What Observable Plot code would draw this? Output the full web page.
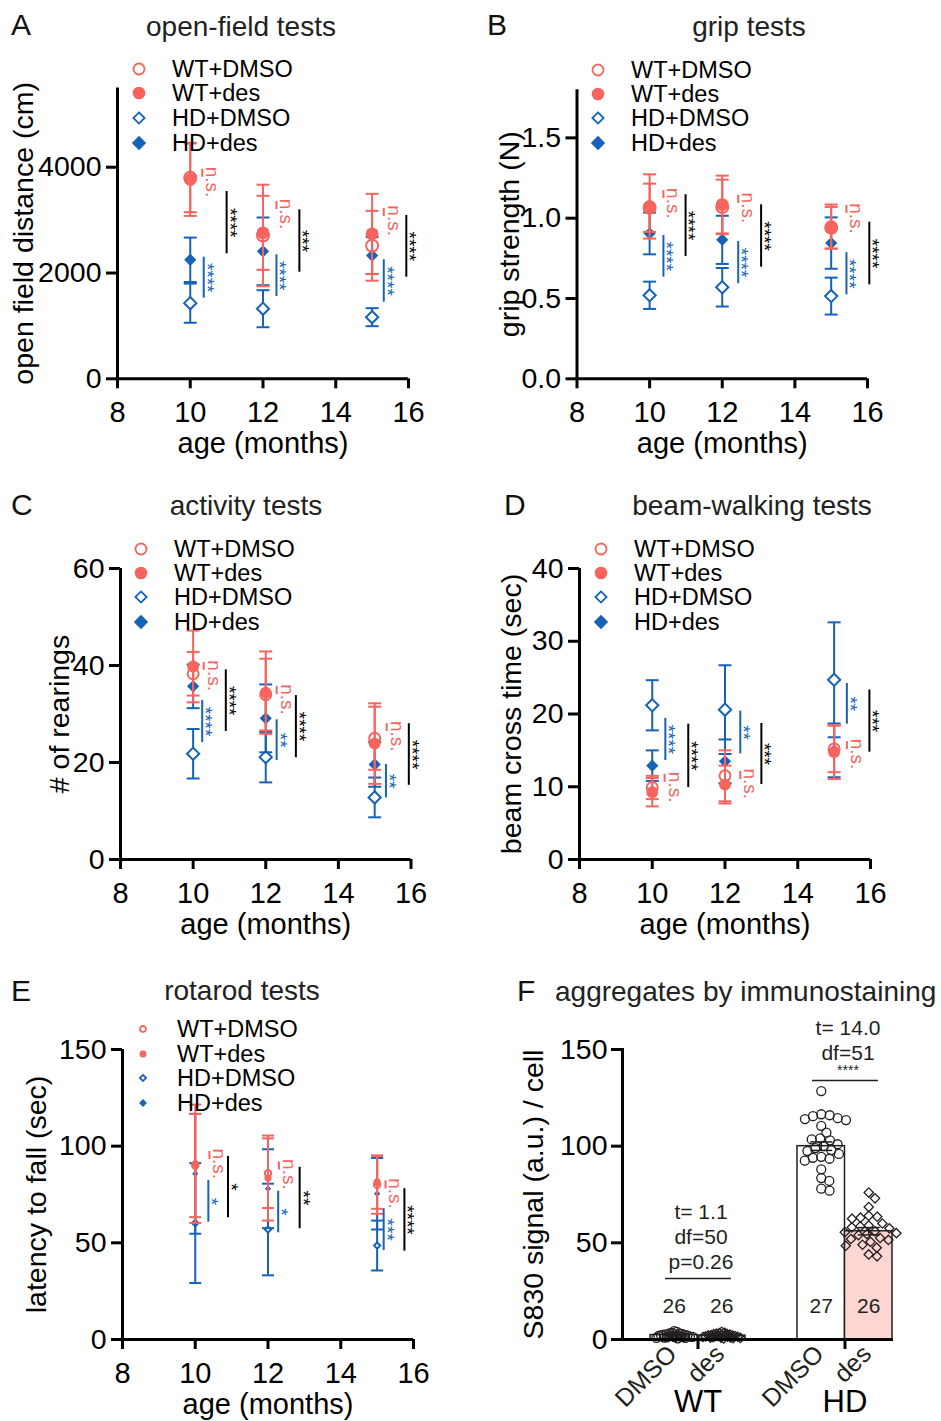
<!DOCTYPE html>
<html>
<head>
<meta charset="utf-8">
<script src="https://cdn.jsdelivr.net/npm/d3@7"></script>
<script src="https://cdn.jsdelivr.net/npm/@observablehq/plot@0.6"></script>
<style>
  body { margin: 0; background: #fff; }
  #fig { position: relative; width: 941px; height: 1421px; overflow: hidden; background: #fff;
         font-family: "Liberation Sans", Arial, Helvetica, sans-serif; }
</style>
</head>
<body>
<div id="fig"></div>
<script>
// ---------------- DATA ----------------
const ages = [10, 12, 15];
const groups = ["WT+DMSO", "WT+des", "HD+DMSO", "HD+des"];
const ageTicks = [8, 10, 12, 14, 16];

// A: open-field (mean, SD) rows follow `groups`
const openFieldMean = [[3800, 2710, 2515], [3770, 2760, 2740], [1430, 1325, 1165], [2250, 2410, 2330]];
const openFieldSd   = [[650, 960, 660], [690, 700, 757], [370, 350, 170], [420, 640, 350]];
const openFieldTicks = [0, 2000, 4000];
// brackets: [position, y1, y2, label centre (null = middle), label, comparison]
const openFieldBrackets = [
  [10.33, 3960, 3810, 3720, "n.s.", "wt"], [12.37, 3350, 3200, 3115, "n.s.", "wt"], [15.32, 3220, 3070, 2990, "n.s.", "wt"],
  [10.37, 2299, 1524, null, "****", "hd"], [12.37, 2344, 1556, null, "****", "hd"], [15.32, 2250, 1448, null, "****", "hd"],
  [11.0, 3541, 2363, null, "****", "all"], [13.0, 3195, 2015, null, "***", "all"], [15.94, 3087, 1921, null, "****", "all"]
];

// B: grip strength
const gripMean = [[1.065, 1.07, 0.94], [1.073, 1.085, 0.948], [0.52, 0.57, 0.515], [0.905, 0.865, 0.845]];
const gripSd   = [[0.15, 0.17, 0.13], [0.20, 0.18, 0.137], [0.085, 0.12, 0.115], [0.13, 0.15, 0.16]];
const gripTicks = [0, 0.5, 1.0, 1.5];
const gripBrackets = [
  [10.38, 1.172, 1.122, 1.092, "n.s.", "wt"], [12.44, 1.141, 1.092, 1.064, "n.s.", "wt"], [15.42, 1.079, 1.029, 0.998, "n.s.", "wt"],
  [10.38, 0.892, 0.633, null, "****", "hd"], [12.44, 0.855, 0.592, null, "****", "hd"], [15.42, 0.785, 0.523, null, "****", "hd"],
  [10.99, 1.146, 0.762, null, "****", "all"], [13.07, 1.083, 0.695, null, "****", "all"], [16.05, 0.975, 0.585, null, "****", "all"]
];

// C: activity (rearings)
const rearMean = [[38.3, 34.0, 25.0], [39.8, 34.4, 23.9], [21.8, 21.1, 12.8], [35.7, 29.1, 19.6]];
const rearSd   = [[4.5, 7.4, 6.5], [7.4, 8.5, 8.3], [5.1, 5.2, 4.1], [4.5, 7.0, 4.6]];
const rearTicks = [0, 20, 40, 60];
const rearBrackets = [
  [10.29, 40.6, 39.0, 37.9, "n.s.", "wt"], [12.3, 35.7, 34.0, 33.0, "n.s.", "wt"], [15.33, 28.0, 26.4, 25.4, "n.s.", "wt"],
  [10.25, 32.8, 24.1, null, "****", "hd"], [12.3, 28.8, 20.4, null, "**", "hd"], [15.31, 19.6, 12.7, null, "**", "hd"],
  [10.9, 39.1, 26.4, null, "****", "all"], [12.83, 33.8, 21.0, null, "****", "all"], [15.94, 28.0, 15.3, null, "****", "all"]
];

// D: beam walking
const beamMean = [[9.9, 11.5, 15.2], [9.25, 10.3, 14.75], [21.2, 20.6, 24.7], [12.9, 13.5, 15.0]];
const beamSd   = [[1.6, 3.5, 3.2], [1.95, 2.6, 3.7], [3.45, 6.1, 7.9], [2.1, 3.0, 3.7]];
const beamTicks = [0, 10, 20, 30, 40];
const beamBrackets = [
  [10.34, 11.7, 10.6, 9.94, "n.s.", "wt"], [12.42, 12.1, 11.0, 10.4, "n.s.", "wt"], [15.35, 16.2, 15.1, 14.5, "n.s.", "wt"],
  [10.36, 19.4, 13.6, null, "****", "hd"], [12.42, 20.4, 14.5, null, "**", "hd"], [15.35, 24.2, 18.6, null, "**", "hd"],
  [10.99, 18.6, 9.9, null, "****", "all"], [13.0, 18.7, 10.3, null, "***", "all"], [15.97, 23.3, 14.75, null, "***", "all"]
];

// E: rotarod
const rotaMean = [[90.0, 86.0, 80.0], [90.9, 83.5, 81.4], [60.2, 56.9, 48.6], [85.7, 78.0, 75.4]];
const rotaSd   = [[26.7, 18.0, 15.0], [30.6, 22.0, 13.8], [31.0, 23.7, 12.9], [31.0, 20.4, 18.5]];
const rotaTicks = [0, 50, 100, 150];
const rotaBrackets = [
  [10.39, 97.3, 93.1, 90.9, "n.s.", "wt"], [12.3, 91.8, 87.7, 85.4, "n.s.", "wt"], [15.23, 82.0, 77.9, 75.5, "n.s.", "wt"],
  [10.36, 82.2, 60.7, null, "*", "hd"], [12.28, 76.7, 55.2, null, "*", "hd"], [15.18, 67.6, 46.0, null, "***", "hd"],
  [10.9, 94.7, 63.0, null, "*", "all"], [12.87, 89.1, 57.3, null, "**", "all"], [15.75, 78.0, 45.7, null, "****", "all"]
];

// F: aggregates
const fGenotypes = ["WT", "HD"];
const fBarGenotype = ["WT", "WT", "HD", "HD"];
const fBarTreatment = ["DMSO", "des", "DMSO", "des"];
const fBarMean = [2.3, 2.0, 100.0, 56.0];
const fBarSem = [0.2, 0.2, 2.2, 1.9];
const fBarN = ["26", "26", "27", "26"];
const fWtDmso = [0.6, 2.4, 1.1, 3.2, 1.8, 0.9, 2.7, 1.5, 3.9, 2.0, 1.3, 2.9, 0.8, 2.2, 1.7, 3.4, 1.0, 2.5, 1.9, 3.0, 1.4, 2.1, 4.3, 1.2, 2.6, 1.6];
const fWtDes  = [0.5, 1.9, 2.8, 1.1, 2.3, 0.8, 3.5, 1.6, 2.0, 1.3, 2.6, 0.7, 1.8, 3.1, 1.0, 2.2, 1.5, 4.0, 1.2, 2.4, 0.9, 1.7, 2.9, 1.4, 2.1, 3.3];
const fHdDmso = [128.5, 116.5, 116, 115.5, 114.5, 114, 113.5, 110.5, 107, 104, 103.5, 103, 101, 100, 99, 98, 97.5, 96, 94.5, 94, 93.5, 92.5, 88, 83.5, 82, 78, 77];
const fHdDes  = [76, 73, 68.5, 64, 63.5, 63, 62.5, 60, 59, 58.5, 58, 57.5, 56, 55.5, 55, 54.5, 54, 52.5, 52, 51.5, 50.5, 49, 48.5, 47.5, 44, 43];
const fTicks = [0, 50, 100, 150];
const fStatGenotype = ["WT", "WT", "WT", "HD", "HD", "HD"];
const fStatY = [65.7, 52.8, 39.8, 160.9, 148, 139.2];
const fStatText = ["t= 1.1", "df=50", "p=0.26", "t= 14.0", "df=51", "****"];
const fStatSize = [21, 21, 21, 21, 21, 14];
const fSigLineGenotype = ["WT", "HD"];
const fSigLineY = [31.6, 134];

// ---------------- STYLE ----------------
const RED = "#f7635d", BLUE = "#1562b6", INK = "#231f20", PINK = "#fdd5d3";
const FONT = '"Liberation Sans", Arial, Helvetica, sans-serif';
const groupStyle = {
  "WT+DMSO": {color: RED, symbol: "circle", filled: false},
  "WT+des":  {color: RED, symbol: "circle", filled: true},
  "HD+DMSO": {color: BLUE, symbol: "diamond2", filled: false},
  "HD+des":  {color: BLUE, symbol: "diamond2", filled: true}
};
const drawOrder = ["HD+DMSO", "HD+des", "WT+DMSO", "WT+des"];
const kindColor = {wt: RED, hd: BLUE, all: "black"};
const capSymbol = {draw(ctx, size) { const w = Math.sqrt(size / Math.PI); ctx.moveTo(-w, 0); ctx.lineTo(w, 0); }};

const fig = document.getElementById("fig");

function timeRows(means, sds) {
  const rows = [];
  groups.forEach((g, gi) => ages.forEach((a, ai) => rows.push({group: g, age: a, mean: means[gi][ai], sd: sds[gi][ai]})));
  return rows;
}
function bracketRows(list) {
  return list.map(([bx, y1, y2, ty, label, kind]) => ({bx, y1, y2, ty: ty == null ? (y1 + y2) / 2 : ty, label, kind}));
}
function place(svg, box) {
  svg.style.position = "absolute";
  svg.style.left = box.left + "px";
  svg.style.top = box.top + "px";
  svg.style.overflow = "visible";
  fig.appendChild(svg);
}

function drawTimePanel(p) {
  const {box, frame} = p;
  const rows = timeRows(p.means, p.sds);
  const br = bracketRows(p.brackets);
  const marks = [];
  for (const g of drawOrder) {
    const st = groupStyle[g];
    const data = rows.filter(d => d.group === g);
    marks.push(
      Plot.ruleX(data, {x: "age", y1: d => d.mean - d.sd, y2: d => d.mean + d.sd, stroke: st.color, strokeWidth: 2}),
      Plot.dot(data, {x: "age", y: d => d.mean + d.sd, symbol: capSymbol, r: p.capR, stroke: st.color, strokeWidth: 2}),
      Plot.dot(data, {x: "age", y: d => d.mean - d.sd, symbol: capSymbol, r: p.capR, stroke: st.color, strokeWidth: 2}),
      Plot.dot(data, {
        x: "age", y: "mean", symbol: st.symbol,
        r: st.symbol === "circle" ? (st.filled ? p.r + 0.4 : p.r) : p.rD,
        fill: st.filled ? st.color : (st.symbol === "circle" ? "none" : "white"),
        stroke: st.filled ? "none" : st.color, strokeWidth: st.filled ? 0 : 2
      })
    );
  }
  for (const kind of ["wt", "hd", "all"]) {
    const d = br.filter(b => b.kind === kind);
    marks.push(Plot.ruleX(d, {x: "bx", y1: "y1", y2: "y2", stroke: kindColor[kind], strokeWidth: 2}));
    marks.push(Plot.text(d, {x: "bx", y: "ty", text: "label", rotate: 90, fill: kindColor[kind],
      fontSize: kind === "wt" ? 19 : 19, dx: kind === "wt" ? 10 : 3}));
  }
  marks.push(
    Plot.ruleY([p.yDomain[0]], {strokeWidth: 3}),
    Plot.ruleX([ageTicks[0]], {strokeWidth: 3}),
    Plot.axisX({ticks: ageTicks, tickSize: 10, tickPadding: 13, fontSize: 29, strokeWidth: 3,
      label: "age (months)", labelAnchor: "center", labelOffset: 74, labelArrow: "none"}),
    Plot.axisY({ticks: p.yTicks, tickFormat: p.yFormat, tickSize: 11, tickPadding: 5, fontSize: 28.5, strokeWidth: 3,
      label: p.ylabel, labelAnchor: "center", labelOffset: p.yLabelOffset, labelArrow: "none"})
  );
  const svg = Plot.plot({
    width: box.width, height: box.height,
    marginLeft: frame.l - box.left, marginRight: box.left + box.width - frame.r,
    marginTop: frame.t - box.top, marginBottom: box.top + box.height - frame.b,
    x: {domain: [ageTicks[0], ageTicks[ageTicks.length - 1]]},
    y: {domain: p.yDomain},
    style: {fontFamily: FONT, color: "black", background: "transparent", overflow: "visible"},
    marks
  });
  place(svg, box);
}

const timePanels = [
  {box: {left: 0, top: 40, width: 470, height: 430}, frame: {l: 117, r: 408, t: 87.4, b: 378.3},
   yDomain: [0, 5500], yTicks: openFieldTicks, yFormat: d3.format("d"), ylabel: "open field distance (cm)", yLabelOffset: 105,
   means: openFieldMean, sds: openFieldSd, brackets: openFieldBrackets, r: 6, rD: 5.5, capR: 6.5},
  {box: {left: 470, top: 40, width: 471, height: 430}, frame: {l: 576.5, r: 867, t: 89.2, b: 378.3},
   yDomain: [0, 1.8], yTicks: gripTicks, yFormat: d3.format(".1f"), ylabel: "grip strength (N)", yLabelOffset: 78,
   means: gripMean, sds: gripSd, brackets: gripBrackets, r: 6, rD: 5.5, capR: 6.5},
  {box: {left: 0, top: 520, width: 470, height: 420}, frame: {l: 120, r: 410.5, t: 568, b: 859},
   yDomain: [0, 60], yTicks: rearTicks, yFormat: d3.format("d"), ylabel: "# of rearings", yLabelOffset: 72,
   means: rearMean, sds: rearSd, brackets: rearBrackets, r: 5.5, rD: 5.5, capR: 6.5},
  {box: {left: 470, top: 520, width: 471, height: 420}, frame: {l: 579, r: 870, t: 568, b: 859},
   yDomain: [0, 40], yTicks: beamTicks, yFormat: d3.format("d"), ylabel: "beam cross time (sec)", yLabelOffset: 79,
   means: beamMean, sds: beamSd, brackets: beamBrackets, r: 5.5, rD: 5.5, capR: 6.5},
  {box: {left: 0, top: 1005, width: 470, height: 416}, frame: {l: 122, r: 413, t: 1049, b: 1339},
   yDomain: [0, 150], yTicks: rotaTicks, yFormat: d3.format("d"), ylabel: "latency to fall (sec)", yLabelOffset: 97,
   means: rotaMean, sds: rotaSd, brackets: rotaBrackets, r: 3.2, rD: 2.8, capR: 6}
];
timePanels.forEach(drawTimePanel);

// ---------------- PANEL F ----------------
(function drawF() {
  const box = {left: 470, top: 1005, width: 471, height: 416};
  const frame = {l: 622, r: 893, t: 1049, b: 1339};
  const HALF = 47.5;
  const bars = fBarGenotype.map((g, i) => ({genotype: g, treatment: fBarTreatment[i], mean: fBarMean[i], sem: fBarSem[i], n: fBarN[i]}));
  const dmsoBars = bars.filter(d => d.treatment === "DMSO");
  const desBars = bars.filter(d => d.treatment === "des");
  const dmsoDots = [...fWtDmso.map(v => ({genotype: "WT", value: v})), ...fHdDmso.map(v => ({genotype: "HD", value: v}))];
  const desDots = [...fWtDes.map(v => ({genotype: "WT", value: v})), ...fHdDes.map(v => ({genotype: "HD", value: v}))];
  const stats = fStatGenotype.map((g, i) => ({genotype: g, y: fStatY[i], text: fStatText[i], size: fStatSize[i]}));
  const sigLines = fSigLineGenotype.map((g, i) => ({genotype: g, y: fSigLineY[i]}));
  const spacing = {WT: 2.8, HD: 8.5};

  // beeswarm layout computed with Plot's own scales
  function swarm(data, facets, channels, scales) {
    const X = channels.x.value, V = channels.y.value, n = X.length;
    const PX = new Float64Array(n), PY = new Float64Array(n), off = new Float64Array(n);
    for (let i = 0; i < n; i++) PY[i] = scales.y(V[i]);
    for (const index of facets) {
      for (const [cat, idx] of d3.group(Array.from(index), i => X[i])) {
        const minD = spacing[cat];
        const order = idx.slice().sort((a, b) => PY[a] - PY[b]);
        const placed = [];
        for (const i of order) {
          const cands = [0];
          for (const j of placed) {
            const dy = PY[i] - PY[j];
            if (Math.abs(dy) < minD) {
              const w = Math.sqrt(minD * minD - dy * dy);
              cands.push(off[j] + w + 0.01, off[j] - w - 0.01);
            }
          }
          cands.sort((a, b) => Math.abs(a) - Math.abs(b));
          let best = 0;
          for (const c of cands) {
            if (placed.every(j => (c - off[j]) ** 2 + (PY[i] - PY[j]) ** 2 >= minD * minD - 0.01)) { best = c; break; }
          }
          off[i] = best;
          placed.push(i);
        }
        for (const i of idx) PX[i] = scales.x(cat) + off[i];
      }
    }
    return {data, facets, channels: {x: {value: PX}, y: {value: PY}}};
  }

  const marks = [
    Plot.barY(dmsoBars, {x: "genotype", y: "mean", insetRight: HALF, fill: "white", stroke: INK, strokeWidth: 1.5}),
    Plot.barY(desBars, {x: "genotype", y: "mean", insetLeft: HALF, fill: PINK, stroke: INK, strokeWidth: 1.5}),
    Plot.dot(dmsoDots, Plot.initializer({x: "genotype", y: "value", symbol: "circle", r: 4.5, fill: "none", stroke: INK, strokeWidth: 1.3, dx: -HALF / 2}, swarm)),
    Plot.dot(desDots, Plot.initializer({x: "genotype", y: "value", symbol: "diamond2", r: 4.2, fill: "none", stroke: INK, strokeWidth: 1.3, dx: HALF / 2}, swarm)),
    Plot.ruleX(dmsoBars, {x: "genotype", y1: d => d.mean - d.sem, y2: d => d.mean + d.sem, dx: -HALF / 2, stroke: INK, strokeWidth: 1.5}),
    Plot.ruleX(desBars, {x: "genotype", y1: d => d.mean - d.sem, y2: d => d.mean + d.sem, dx: HALF / 2, stroke: INK, strokeWidth: 1.5}),
    Plot.dot(dmsoBars, {x: "genotype", y: d => d.mean + d.sem, dx: -HALF / 2, symbol: capSymbol, r: 11, stroke: INK, strokeWidth: 1.5}),
    Plot.dot(dmsoBars, {x: "genotype", y: d => d.mean - d.sem, dx: -HALF / 2, symbol: capSymbol, r: 11, stroke: INK, strokeWidth: 1.5}),
    Plot.dot(desBars, {x: "genotype", y: d => d.mean + d.sem, dx: HALF / 2, symbol: capSymbol, r: 11, stroke: INK, strokeWidth: 1.5}),
    Plot.dot(desBars, {x: "genotype", y: d => d.mean - d.sem, dx: HALF / 2, symbol: capSymbol, r: 11, stroke: INK, strokeWidth: 1.5}),
    Plot.text(dmsoBars, {x: "genotype", text: "n", frameAnchor: "bottom", dy: -27, dx: -HALF / 2, fontSize: 21, fill: INK}),
    Plot.text(desBars, {x: "genotype", text: "n", frameAnchor: "bottom", dy: -27, dx: HALF / 2, fontSize: 21, fill: INK}),
    Plot.text(dmsoBars, {x: "genotype", text: "treatment", frameAnchor: "bottom", rotate: -45, textAnchor: "end", dx: -HALF / 2 + 4, dy: 16, fontSize: 25, fill: INK}),
    Plot.text(desBars, {x: "genotype", text: "treatment", frameAnchor: "bottom", rotate: -45, textAnchor: "end", dx: HALF / 2 + 4, dy: 16, fontSize: 25, fill: INK}),
    Plot.text(stats.filter(d => d.size > 15), {x: "genotype", y: "y", text: "text", fontSize: 21, fill: INK, dx: 3}),
    Plot.text(stats.filter(d => d.size <= 15), {x: "genotype", y: "y", text: "text", fontSize: 14, fill: INK, dx: 3}),
    Plot.tickY(sigLines, {x: "genotype", y: "y", insetLeft: 15, insetRight: 14, stroke: INK, strokeWidth: 1.5}),
    Plot.ruleY([0], {strokeWidth: 3}),
    Plot.frame({anchor: "left", strokeWidth: 3}),
    Plot.axisY({ticks: fTicks, tickFormat: d3.format("d"), tickSize: 11, tickPadding: 4, fontSize: 28.5, strokeWidth: 3,
      label: "S830 signal (a.u.) / cell", labelAnchor: "center", labelOffset: 100, labelArrow: "none"}),
    Plot.axisX({tickSize: 10, tickPadding: 40, fontSize: 31, strokeWidth: 3, label: null})
  ];
  const svg = Plot.plot({
    width: box.width, height: box.height,
    marginLeft: frame.l - box.left, marginRight: box.left + box.width - frame.r,
    marginTop: frame.t - box.top, marginBottom: box.top + box.height - frame.b,
    x: {type: "band", domain: fGenotypes, range: [650 - box.left, 892.5 - box.left], paddingInner: 0.356, paddingOuter: 0},
    y: {domain: [0, 150]},
    style: {fontFamily: FONT, color: "black", background: "transparent", overflow: "visible"},
    marks
  });
  place(svg, box);
})();

// ---------------- LETTERS, TITLES, LEGENDS ----------------
const overlay = d3.select(fig).append("svg")
  .attr("width", 941).attr("height", 1421)
  .style("position", "absolute").style("left", "0px").style("top", "0px")
  .style("pointer-events", "none").style("font-family", FONT);

const panelLetters = ["A", "B", "C", "D", "E", "F"];
const letterPos = [[11, 35], [487, 35], [11, 515], [504, 515], [11, 1001], [517, 1001]];
panelLetters.forEach((t, i) => overlay.append("text").attr("x", letterPos[i][0]).attr("y", letterPos[i][1])
  .attr("font-size", 30).attr("fill", "#111").text(t));

const panelTitles = ["open-field tests", "grip tests", "activity tests", "beam-walking tests", "rotarod tests", "aggregates by immunostaining"];
const titlePos = [[241, 36, "middle"], [749, 36, "middle"], [246, 515, "middle"], [752, 515, "middle"], [242, 1000, "middle"], [555, 1001, "start"]];
panelTitles.forEach((t, i) => overlay.append("text").attr("x", titlePos[i][0]).attr("y", titlePos[i][1])
  .attr("text-anchor", titlePos[i][2]).attr("font-size", 28).attr("fill", "#222").text(t));

const legendPos = [
  {sx: 139, tx: 172, rows: [69, 93, 118, 143], big: true},
  {sx: 598, tx: 631, rows: [70, 94, 118, 143], big: true},
  {sx: 141, tx: 174, rows: [549, 573, 597, 622], big: true},
  {sx: 601, tx: 634, rows: [549, 573, 597, 622], big: true},
  {sx: 143, tx: 177, rows: [1029, 1054, 1078, 1103], big: false}
];
function diamond(h) { return `M0,${-h}L${h},0L0,${h}L${-h},0Z`; }
legendPos.forEach(L => {
  groups.forEach((g, i) => {
    const st = groupStyle[g];
    const gg = overlay.append("g").attr("transform", `translate(${L.sx},${L.rows[i]})`);
    const s = L.big ? 1 : 0.55;
    if (st.symbol === "circle") {
      if (st.filled) gg.append("circle").attr("r", 6.3 * s).attr("fill", st.color);
      else gg.append("circle").attr("r", 5.5 * s).attr("fill", "none").attr("stroke", st.color).attr("stroke-width", 1.8);
    } else {
      if (st.filled) gg.append("path").attr("d", diamond(7.2 * s)).attr("fill", st.color);
      else gg.append("path").attr("d", diamond(5.6 * s)).attr("fill", "white").attr("stroke", st.color).attr("stroke-width", 1.8);
    }
    overlay.append("text").attr("x", L.tx).attr("y", L.rows[i] + 8.4).attr("font-size", 23.5).attr("fill", "#000").text(g);
  });
});
</script>
</body>
</html>
